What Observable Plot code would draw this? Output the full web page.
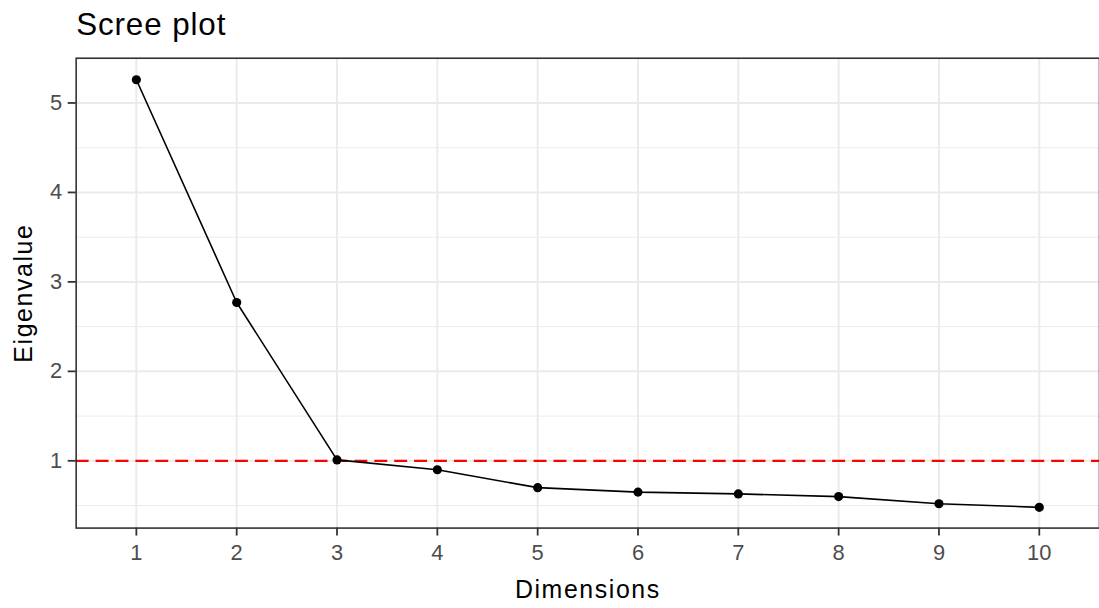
<!DOCTYPE html>
<html>
<head>
<meta charset="utf-8">
<script src="https://cdn.jsdelivr.net/npm/d3@7"></script>
<script src="https://cdn.jsdelivr.net/npm/@observablehq/plot@0.6"></script>
<style>
  html, body { margin: 0; padding: 0; background: #fff; overflow: hidden; }
  #chart svg { display: block; font-family: "Liberation Sans", Arial, sans-serif; }
</style>
</head>
<body>
<div id="chart"></div>
<script>
const dimensions = [1, 2, 3, 4, 5, 6, 7, 8, 9, 10];
const eigenvalues = [5.26, 2.77, 1.01, 0.90, 0.70, 0.65, 0.63, 0.60, 0.52, 0.48];
const yMajorTicks = [1, 2, 3, 4, 5];
const yMinorTicks = [0.5, 1.5, 2.5, 3.5, 4.5, 5.5];
const threshold = [1];
const titleText = "Scree plot";
const xLabel = "Dimensions";
const yLabel = "Eigenvalue";

const data = dimensions.map((d, i) => ({dim: d, eig: eigenvalues[i]}));

const chart = Plot.plot({
  width: 1104,
  height: 608,
  marginLeft: 76,
  marginRight: 0,
  marginTop: 58,
  marginBottom: 78,
  style: {background: "#fff", fontFamily: "Liberation Sans, Arial, sans-serif"},
  x: {domain: [0.4, 10.6]},
  y: {domain: [0.248, 5.5]},
  marks: [
    Plot.gridY(yMinorTicks, {stroke: "#ebebeb", strokeOpacity: 1, strokeWidth: 1}),
    Plot.gridY(yMajorTicks, {stroke: "#ebebeb", strokeOpacity: 1, strokeWidth: 2}),
    Plot.gridX(dimensions, {stroke: "#ebebeb", strokeOpacity: 1, strokeWidth: 2}),
    Plot.ruleY(threshold, {stroke: "#ff0000", strokeWidth: 2.2, strokeDasharray: "13,7"}),
    Plot.line(data, {x: "dim", y: "eig", stroke: "#000", strokeWidth: 1.6}),
    Plot.dot(data, {x: "dim", y: "eig", r: 4.6, fill: "#000", stroke: "none"}),
    Plot.frame({stroke: "#333", strokeWidth: 1.6}),
    Plot.axisX(dimensions, {tickSize: 8, tickPadding: 8, fontSize: 22, color: "#4d4d4d", stroke: "#333", strokeWidth: 1.8, tickFormat: d => String(d), label: null}),
    Plot.axisY(yMajorTicks, {tickSize: 8, tickPadding: 6, fontSize: 22, color: "#4d4d4d", stroke: "#333", strokeWidth: 1.8, tickFormat: d => String(d), label: null}),
    Plot.text([xLabel], {frameAnchor: "bottom", lineAnchor: "top", dy: 52, fontSize: 25, fill: "#000"}),
    Plot.text([yLabel], {frameAnchor: "left", rotate: -90, textAnchor: "middle", lineAnchor: "bottom", dx: -44, fontSize: 25, fill: "#000"}),
    Plot.text([titleText], {frameAnchor: "top-left", textAnchor: "start", lineAnchor: "bottom", dy: -23, fontSize: 31.5, fill: "#000"})
  ]
});
document.getElementById("chart").appendChild(chart);

// widen letter spacing to match the reference's rendering
const svg = d3.select(chart);
svg.selectAll("text").filter(function() { return this.textContent === xLabel || this.textContent === yLabel; })
  .attr("letter-spacing", "1.6px");
svg.selectAll("text").filter(function() { return this.textContent === titleText; })
  .attr("letter-spacing", "0.9px");
</script>
</body>
</html>
